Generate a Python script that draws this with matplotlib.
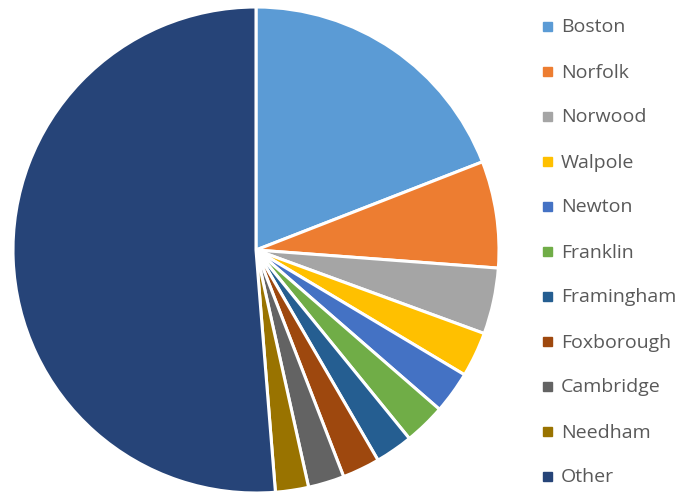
import matplotlib.pyplot as plt
from matplotlib.patches import Rectangle

towns = ['Boston', 'Norfolk', 'Norwood', 'Walpole', 'Newton', 'Franklin',
         'Framingham', 'Foxborough', 'Cambridge', 'Needham', 'Other']
shares = [19.1, 7.1, 4.4, 3.0, 2.8, 2.75, 2.5, 2.5, 2.4, 2.2, 51.3]
colors = ['#5B9BD5', '#ED7D31', '#A5A5A5', '#FFC000', '#4472C4', '#70AD47',
          '#255E91', '#9E480E', '#636363', '#997300', '#264478']

fig = plt.figure(figsize=(7, 4.93), dpi=100)

# pie axes: centre (256, 250) px, radius 243 px
cx, cy, r = 256, 250, 243
ax = fig.add_axes([(cx - r) / 700, (493 - cy - r) / 493, 2 * r / 700, 2 * r / 493])
ax.pie(shares, colors=colors, startangle=90, counterclock=False,
       wedgeprops=dict(edgecolor='white', linewidth=2.2))
ax.set_xlim(-1, 1)
ax.set_ylim(-1, 1)
ax.set_aspect('equal')
ax.axis('off')

# legend drawn by hand
for i, (t, c) in enumerate(zip(towns, colors)):
    y = 493 - (26 + i * 45)
    fig.patches.append(Rectangle(((547 - 4.5) / 700, (y - 4.5) / 493), 9 / 700, 9 / 493,
                                 transform=fig.transFigure, color=c))
    fig.text(561 / 700, (y - 1.5) / 493, t, fontsize=14, color='#595959',
             family='Open Sans', va='center', ha='left')

fig.savefig('out.png', dpi=100)
